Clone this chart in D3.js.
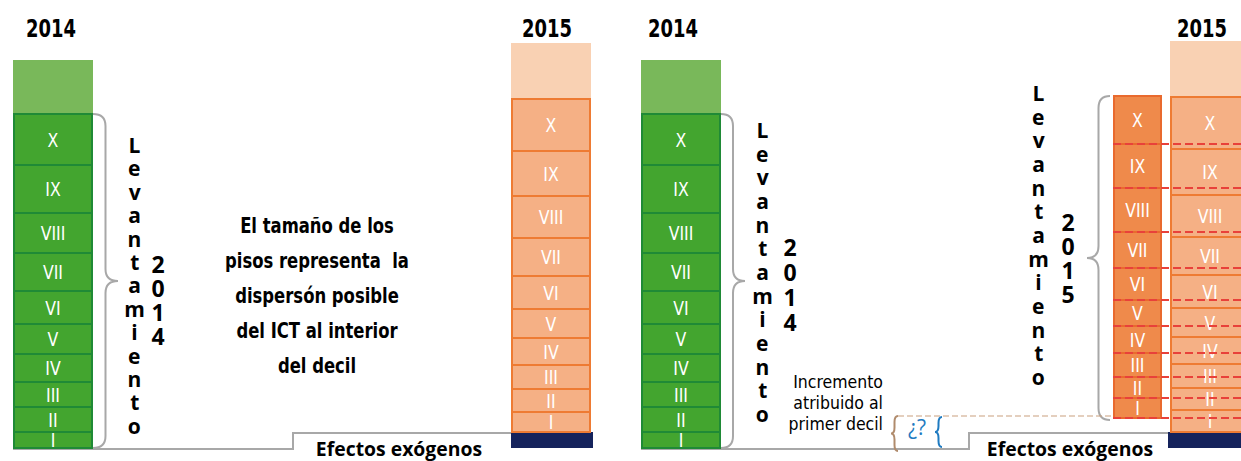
<!DOCTYPE html>
<html>
<head>
<meta charset="utf-8">
<script src="https://cdn.jsdelivr.net/npm/d3@7"></script>
<style>
  body { margin: 0; background: #fff; }
  svg { display: block; }
</style>
</head>
<body>
<div id="chart"></div>
<script>
const WIDTH = 1241, HEIGHT = 461;
const COND = "'Liberation Sans Narrow','DejaVu Sans Condensed','Roboto Condensed',sans-serif";
const SANS = "'Open Sans','Noto Sans',sans-serif";

// decile labels, bottom to top
const deciles = ["I", "II", "III", "IV", "V", "VI", "VII", "VIII", "IX", "X"];

// floor heights of each stack (ICT units, bottom to top) + empty cap above
const floors2014 = [16, 25, 25, 28, 30, 33, 38, 40, 48, 51];
const cap2014 = 54;
const floors2015 = [20, 23, 24, 27, 29, 33, 38, 42, 45, 52];
const cap2015 = 56;
const floors2015b = [22, 22, 24, 27, 29, 33, 38, 42, 46, 52];
const floorsLev2015 = [20, 21, 24, 27, 26, 32, 36, 44, 44, 48];

// base offsets (ICT units above the 2014 floor)
const exogenous = 16;
const firstDecilIncrement = 30;

const noteLines = ["El tamaño de los", "pisos representa  la", "dispersón posible", "del ICT al interior", "del decil"];
const incrementLines = ["Incremento", "atribuido al", "primer decil"];

const svg = d3.select("#chart").append("svg")
  .attr("width", WIDTH).attr("height", HEIGHT);

const y = d3.scaleLinear().domain([0, 400]).range([448, 48]);

function cumulative(arr, base) {
  let acc = base;
  return arr.map((h, i) => { const s = acc; acc += h; return { label: deciles[i], y0: s, y1: acc }; });
}

// squeeze text horizontally to mimic a condensed face
function condense(sel, factor) {
  sel.each(function() {
    const len = this.getComputedTextLength();
    d3.select(this).attr("textLength", len * factor).attr("lengthAdjust", "spacingAndGlyphs");
  });
}

function drawStack(x, w, floors, base, cap, style) {
  const cells = cumulative(floors, base);
  const top = cells[cells.length - 1].y1;
  const g = svg.append("g");
  if (cap) {
    g.append("rect").attr("x", x).attr("width", w)
      .attr("y", y(top + cap)).attr("height", y(top) - y(top + cap))
      .attr("fill", style.cap);
  }
  g.selectAll("rect.cell").data(cells).join("rect").attr("class", "cell")
    .attr("x", x + 1).attr("width", w - 2)
    .attr("y", d => y(d.y1)).attr("height", d => y(d.y0) - y(d.y1))
    .attr("fill", style.fill).attr("stroke", style.stroke).attr("stroke-width", 2);
  if (cap) {
    g.append("line").attr("x1", x).attr("x2", x + w)
      .attr("y1", y(top)).attr("y2", y(top))
      .attr("stroke", style.stroke).attr("stroke-width", 2).attr("stroke-dasharray", "2,2");
  }
  g.selectAll("text").data(cells).join("text")
    .attr("x", x + w / 2).attr("y", d => (y(d.y0) + y(d.y1)) / 2 + 7)
    .attr("text-anchor", "middle").attr("fill", "#fff")
    .style("font-family", COND).style("font-size", "19px")
    .text(d => d.label)
    .call(condense, 0.92);
  return cells;
}

function brace(x0, y0, y1, w, color, dir, r) {
  const ym = (y0 + y1) / 2, d = dir;
  r = r || 12;
  const xm = x0 + d * w / 2, xt = x0 + d * w;
  const p = `M${x0},${y0} Q${xm},${y0} ${xm},${y0 + r} L${xm},${ym - r} Q${xm},${ym} ${xt},${ym}` +
            ` Q${xm},${ym} ${xm},${ym + r} L${xm},${y1 - r} Q${xm},${y1} ${x0},${y1}`;
  svg.append("path").attr("d", p).attr("fill", "none")
    .attr("stroke", color).attr("stroke-width", 2);
}

// upright letters stacked top to bottom, in one text element
function vertical(word, x, yTop, step, size) {
  svg.append("text")
    .attr("x", x).attr("y", yTop)
    .attr("textLength", word.length * step).attr("lengthAdjust", "spacing")
    .style("writing-mode", "vertical-rl").style("text-orientation", "upright")
    .style("font-family", SANS).style("font-weight", "bold").style("font-size", size + "px")
    .attr("fill", "#000")
    .text(word);
}

function title(t, x) {
  svg.append("text").attr("x", x).attr("y", 37).attr("text-anchor", "middle")
    .style("font-family", COND).style("font-weight", "bold").style("font-size", "24px")
    .text(t).call(condense, 0.83);
}

function exoLabel(x) {
  svg.append("text").attr("x", x).attr("y", 456).attr("text-anchor", "middle")
    .style("font-family", SANS).style("font-weight", "bold").style("font-size", "19px")
    .text("Efectos exógenos").call(condense, 1.02);
}

const green = { fill: "#43A52F", stroke: "#1F8A36", cap: "#79B85A" };
const orange = { fill: "#F5B085", stroke: "#EE7B33", cap: "#F9D1B3" };
const darkOrange = { fill: "#EF8A4B", stroke: "#E96A2E" };
const GRAY = "#A8A8A8";

// ---------- left panel ----------
svg.append("path")
  .attr("d", `M13,449 L293,449 L293,${y(exogenous) + 1} L513,${y(exogenous) + 1}`)
  .attr("fill", "none").attr("stroke", GRAY).attr("stroke-width", 2);
drawStack(13, 80, floors2014, 0, cap2014, green);
svg.append("rect").attr("x", 511).attr("width", 82)
  .attr("y", y(exogenous)).attr("height", y(0) - y(exogenous)).attr("fill", "#15235C");
drawStack(511, 80, floors2015, exogenous, cap2015, orange);
title("2014", 51);
title("2015", 547);

brace(93, y(d3.sum(floors2014)), y(0), 25, GRAY, 1);
vertical("Levantamiento", 134, 131, 23.75, 21);
vertical("2014", 158, 248, 26, 23);

svg.append("g").selectAll("text").data(noteLines).join("text")
  .attr("x", 317).attr("y", (d, i) => 233 + i * 35)
  .attr("text-anchor", "middle")
  .style("font-family", COND).style("font-weight", "bold").style("font-size", "22px")
  .style("white-space", "pre")
  .text(d => d)
  .call(condense, 0.83);

exoLabel(399);

// ---------- right panel ----------
svg.append("path")
  .attr("d", `M641,449 L969,449 L969,${y(exogenous) + 1} L1170,${y(exogenous) + 1}`)
  .attr("fill", "none").attr("stroke", GRAY).attr("stroke-width", 2);
drawStack(641, 80, floors2014, 0, cap2014, green);
svg.append("rect").attr("x", 1168).attr("width", 90)
  .attr("y", y(exogenous)).attr("height", y(0) - y(exogenous)).attr("fill", "#15235C");
drawStack(1170, 80, floors2015b, exogenous, cap2015, orange);
const lev = drawStack(1113, 49, floorsLev2015, firstDecilIncrement, 0, darkOrange);
title("2014", 673);
title("2015", 1202);

brace(721, y(d3.sum(floors2014)), y(0), 24, GRAY, 1);
vertical("Levantamiento", 762, 116, 24, 21);
vertical("2014", 790, 231, 26.7, 23);

const levTop = lev[lev.length - 1].y1;
brace(1110, y(levTop), y(firstDecilIncrement) + 2, 23, GRAY, -1);
vertical("Levantamiento", 1038, 79, 24, 21);
vertical("2015", 1068, 206, 26, 23);

// red dashed guides at the floors of the 2015 survey
svg.append("g").selectAll("line").data(lev.map(d => d.y0)).join("line")
  .attr("x1", 1113).attr("x2", WIDTH)
  .attr("y1", d => y(d)).attr("y2", d => y(d))
  .attr("stroke", "#E8413A").attr("stroke-width", 2).attr("stroke-dasharray", "8,4");

// increment to the first decile
const incTop = y(firstDecilIncrement + 2);
svg.append("line").attr("x1", 898).attr("x2", 1113).attr("y1", incTop).attr("y2", incTop)
  .attr("stroke", "#C9A07E").attr("stroke-width", 1.2).attr("stroke-dasharray", "6,3");
brace(898, incTop, 451, 7, "#B08B6C", -1, 6);
brace(942, incTop + 1, 447, 7, "#1F7BC1", -1, 6);
svg.append("text").attr("x", 917).attr("y", 435).attr("text-anchor", "middle")
  .style("font-family", SANS).style("font-size", "21px")
  .attr("fill", "#1F7BC1").text("¿?");

svg.append("g").selectAll("text").data(incrementLines).join("text")
  .attr("x", 883).attr("y", (d, i) => 388 + i * 21).attr("text-anchor", "end")
  .style("font-family", COND).style("font-size", "17.5px")
  .text(d => d);

exoLabel(1070);
</script>
</body>
</html>
